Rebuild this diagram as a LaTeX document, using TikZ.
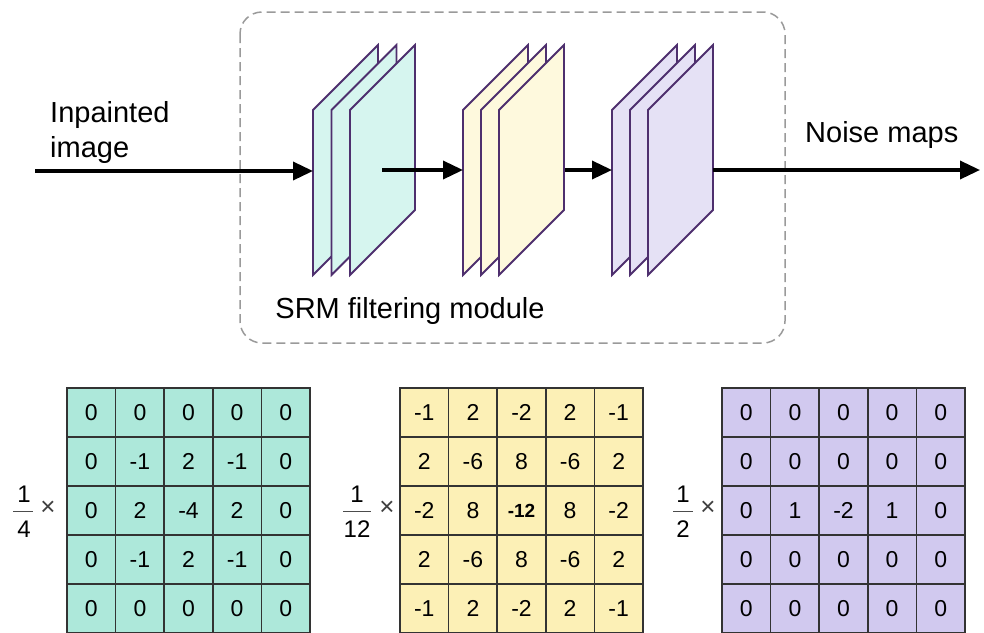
\documentclass[tikz,border=0pt]{standalone}
\usepackage{fontspec}
\setmainfont{Liberation Sans}
\usetikzlibrary{arrows.meta}

\definecolor{edgeviolet}{HTML}{4E2F6E}
\definecolor{framegray}{HTML}{9A9A9A}
\definecolor{planecyan}{HTML}{D6F5EF}
\definecolor{planeyellow}{HTML}{FEF9DD}
\definecolor{planeviolet}{HTML}{E5E1F5}
\definecolor{cellcyan}{HTML}{ADE8DA}
\definecolor{cellyellow}{HTML}{FCF0B6}
\definecolor{cellviolet}{HTML}{D1C9EF}

% one feature-map sheet, drawn as a slanted parallelogram
\newcommand\layerplane[2]{%
  \filldraw[plane,fill=#2] (#1,275) -- (#1,110) -- ({#1+65},45) -- ({#1+65},210) -- cycle;}

\begin{document}
\begin{tikzpicture}[x=1pt,y=-1pt,
  plane/.style={draw=edgeviolet,line width=1.8pt,line join=miter},
  flow/.style={line width=3.5pt,-{Triangle[length=20pt,width=18pt]}},
  cell/.style={draw=black!80,line width=1.5pt,minimum width=48.6pt,
    minimum height=49pt,inner sep=0pt,font=\fontsize{23}{25}\selectfont},
  lbl/.style={font=\fontsize{29}{35}\selectfont,inner sep=0pt},
  fracdigit/.style={font=\fontsize{24}{26}\selectfont,inner sep=0pt},
  times/.style={font=\fontsize{26}{28}\selectfont,inner sep=0pt,text=black!75}]

\useasboundingbox (0,0) rectangle (984,632);

% dashed frame of the filtering module
\draw[framegray,line width=1.5pt,dash pattern=on 9pt off 5pt,rounded corners=22pt]
  (240,12) rectangle (785,343);
\node[lbl,anchor=base] (modlabel) at (410,318) {SRM filtering module};

% three stacks of filtered maps
\layerplane{313}{planecyan}
\layerplane{331.5}{planecyan}
\layerplane{350}{planecyan}
\layerplane{463}{planeyellow}
\layerplane{481}{planeyellow}
\layerplane{499}{planeyellow}
\layerplane{612}{planeviolet}
\layerplane{630}{planeviolet}
\layerplane{648}{planeviolet}

% arrow end points on the sheets
\coordinate (src) at (35,171);
\coordinate (s1in) at (313,171);
\coordinate (s1out) at (382,170);
\coordinate (s2in) at (463,170);
\coordinate (s2out) at (565,170);
\coordinate (s3in) at (612,170);
\coordinate (s3out) at (713,170);
\coordinate (dst) at (980,170);

\draw[flow] (src) -- (s1in);
\draw[flow] (s1out) -- (s2in);
\draw[flow] (s2out) -- (s3in);
\draw[flow] (s3out) -- (dst);

% a two-line node is anchored at the baseline of its last line
\node[lbl,anchor=base west,align=left] (inlabel) at (50,157) {Inpainted\\image};
\node[lbl,anchor=base west] (outlabel) at (805,142) {Noise maps};

% 5x5 kernels
\foreach \row [count=\r] in {{0,0,0,0,0},{0,-1,2,-1,0},{0,2,-4,2,0},{0,-1,2,-1,0},{0,0,0,0,0}}
  \foreach \v [count=\c] in \row
    \node[cell,fill=cellcyan] (ka-\r-\c) at ({67+(\c-0.5)*48.6},{388+(\r-0.5)*49}) {\v};

\foreach \row [count=\r] in {{-1,2,-2,2,-1},{2,-6,8,-6,2},{-2,8,{\bfseries\fontsize{19}{21}\selectfont -12},8,-2},{2,-6,8,-6,2},{-1,2,-2,2,-1}}
  \foreach \v [count=\c] in \row
    \node[cell,fill=cellyellow] (kb-\r-\c) at ({400+(\c-0.5)*48.6},{388+(\r-0.5)*49}) {\v};

\foreach \row [count=\r] in {{0,0,0,0,0},{0,0,0,0,0},{0,1,-2,1,0},{0,0,0,0,0},{0,0,0,0,0}}
  \foreach \v [count=\c] in \row
    \node[cell,fill=cellviolet] (kc-\r-\c) at ({722+(\c-0.5)*48.6},{388+(\r-0.5)*49}) {\v};

% scale factors
\node[fracdigit] (fa-n) at (24,494) {1};
\node[fracdigit] (fa-d) at (24,529) {4};
\draw[black!70,line width=0.9pt] (13,511) -- (33,511);
\node[times] (fa-x) at (48,508) {×};

\node[fracdigit] (fb-n) at (357,494) {1};
\node[fracdigit] (fb-d) at (357,529) {12};
\draw[black!70,line width=0.9pt] (343,511) -- (371,511);
\node[times] (fb-x) at (387,508) {×};

\node[fracdigit] (fc-n) at (683,494) {1};
\node[fracdigit] (fc-d) at (683,529) {2};
\draw[black!70,line width=0.9pt] (673,511) -- (693,511);
\node[times] (fc-x) at (708,508) {×};

\end{tikzpicture}
\end{document}
